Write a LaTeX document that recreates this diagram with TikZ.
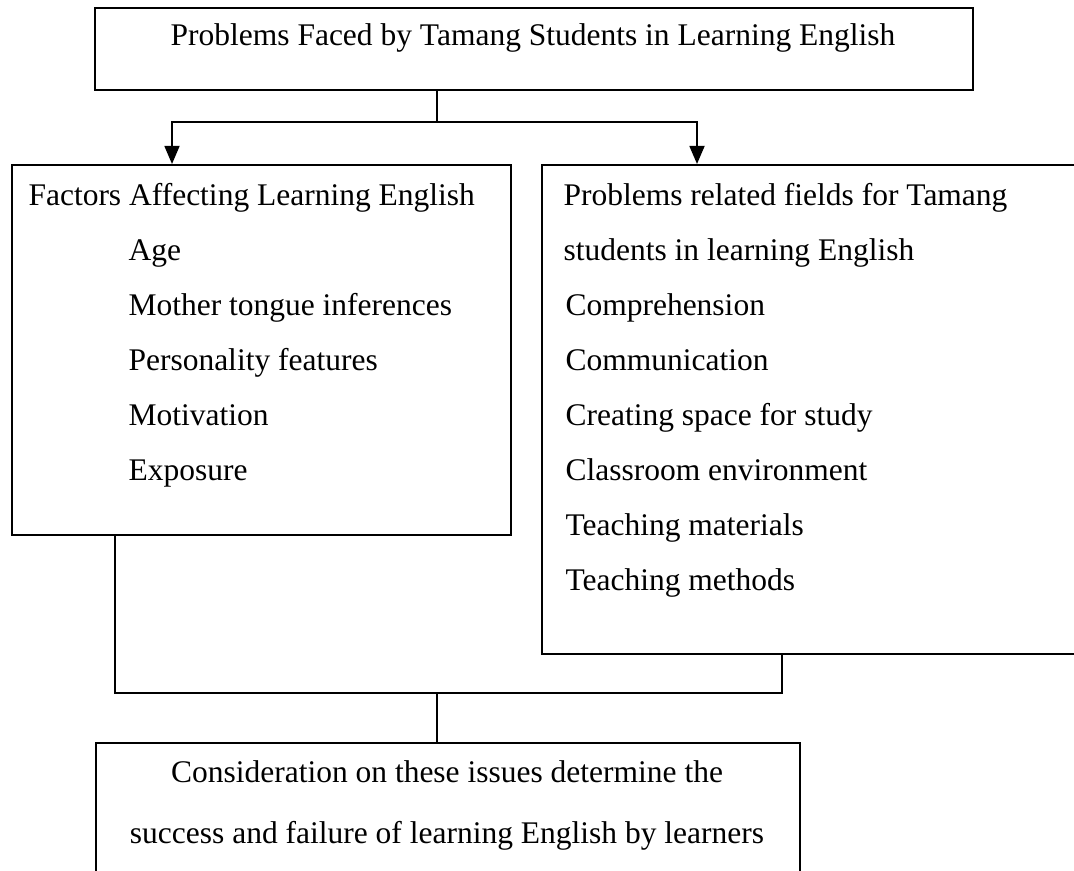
\documentclass[tikz,border=0pt]{standalone}
\usepackage{fontspec}
\setmainfont{Liberation Serif}
\usepackage{xcolor}
\usepackage{tikz}
\usetikzlibrary{arrows.meta,positioning}
\newlength\px
\setlength\px{0.381pt}

\begin{document}
\begin{tikzpicture}[x=0.381pt, y=-0.381pt, font=\fontsize{12}{14}\selectfont,
  box/.style={draw, line width=0.75pt, rectangle, anchor=north west, inner sep=0pt},
  txt/.style={anchor=base west, inner sep=0pt},
  link/.style={line width=0.75pt},
  arr/.style={link, -{Triangle[width=5.7pt,length=6.9pt]}}]

\useasboundingbox (0,0) rectangle (1074,870);

\node(problems)[box, minimum width=878\px, minimum height=82\px] at (94,7) {};
\node(factors)[box, minimum width=499\px, minimum height=370\px] at (11,164) {};
\node(fields)[box, minimum width=600\px, minimum height=489\px] at (541,164) {};
\node(consider)[box, minimum width=704\px, minimum height=200\px] at (95,742) {};

\node(title)[anchor=base, inner sep=0pt] at (533,45) {Problems Faced by Tamang Students in Learning English};

\node(factorshead)[txt] at (28,205) {Factors Affecting Learning English};
\foreach \t [count=\i] in {Age, Mother tongue inferences, Personality features, Motivation, Exposure}
	\node(factor\i)[txt] at (128,205+55*\i) {\t};

\node(fieldshead)[txt] at (563,205) {Problems related fields for Tamang};
\node(fieldshead2)[txt] at (563,260) {students in learning English};
\foreach \t [count=\i] in {Comprehension, Communication, Creating space for study, Classroom environment, Teaching materials, Teaching methods}
	\node(field\i)[txt] at (565,260+55*\i) {\t};

\node(consider1)[anchor=base, inner sep=0pt] at (447,782) {Consideration on these issues determine the};
\node(consider2)[anchor=base, inner sep=0pt] at (447,843) {success and failure of learning English by learners};

\coordinate(split) at (437,122);
\coordinate(ltip) at (172,164);
\coordinate(rtip) at (697,164);
\draw[link](problems.south -| split)--(split);
\draw[arr](split)-|(ltip);
\draw[arr](split)-|(rtip);

\coordinate(ljoin) at (115,693);
\coordinate(rjoin) at (782,693);
\coordinate(join) at (437,693);
\draw[link](factors.south -| ljoin)--(ljoin)--(rjoin)--(fields.south -| rjoin);
\draw[link](join)--(consider.north -| join);

\end{tikzpicture}
\end{document}
